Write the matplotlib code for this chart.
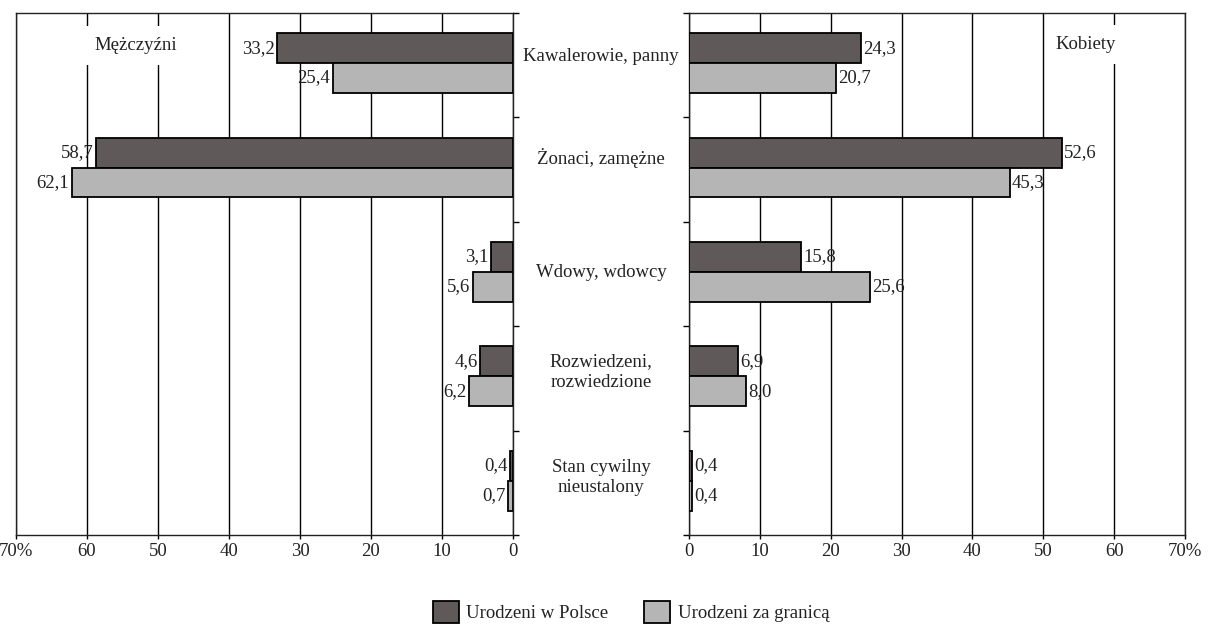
import matplotlib
matplotlib.use("Agg")
import matplotlib.pyplot as plt
from matplotlib.patches import Patch
import numpy as np

plt.rcParams['font.family'] = ['Liberation Serif', 'DejaVu Serif']

categories = ["Kawalerowie, panny", "Żonaci, zamężne", "Wdowy, wdowcy",
              "Rozwiedzeni,\nrozwiedzione", "Stan cywilny\nnieustalony"]
men_poland = [33.2, 58.7, 3.1, 4.6, 0.4]
men_abroad = [25.4, 62.1, 5.6, 6.2, 0.7]
women_poland = [24.3, 52.6, 15.8, 6.9, 0.4]
women_abroad = [20.7, 45.3, 25.6, 8.0, 0.4]
series_names = ["Urodzeni w Polsce", "Urodzeni za granicą"]
panel_titles = ["Mężczyźni", "Kobiety"]
xticks = [0, 10, 20, 30, 40, 50, 60, 70]
xticklabels = ["0", "10", "20", "30", "40", "50", "60", "70%"]

DARK = "#5f5a59"
LIGHT = "#b5b5b5"
TXT = "#222222"
FS = 13.5

W, H = 1213, 630
fig = plt.figure(figsize=(W / 100, H / 100), dpi=100)
top, bot = 13, 535
axL = fig.add_axes([16 / W, (H - bot) / H, 497 / W, (bot - top) / H])
axR = fig.add_axes([689 / W, (H - bot) / H, 496 / W, (bot - top) / H])

n = len(categories)
y = np.arange(n)
bh = 0.287
off = -0.02

def fmt(v):
    return f"{v:.1f}".replace(".", ",")

for ax, pl, ab, side in [(axL, men_poland, men_abroad, "L"), (axR, women_poland, women_abroad, "R")]:
    ax.set_xlim(0, 70)
    ax.set_ylim(n - 0.5, -0.5)
    if side == "L":
        ax.invert_xaxis()
    ax.barh(y + off - bh / 2, pl, height=bh, color=DARK, edgecolor="black", linewidth=1.3, zorder=3)
    ax.barh(y + off + bh / 2, ab, height=bh, color=LIGHT, edgecolor="black", linewidth=1.3, zorder=3)
    for i in range(n):
        for v, yy in [(pl[i], y[i] + off - bh / 2), (ab[i], y[i] + off + bh / 2)]:
            if side == "L":
                ax.annotate(fmt(v), (v, yy), xytext=(-2, 0), textcoords="offset points",
                            ha="right", va="center", fontsize=FS, color=TXT, zorder=5)
            else:
                ax.annotate(fmt(v), (v, yy), xytext=(1.5, 0), textcoords="offset points",
                            ha="left", va="center", fontsize=FS, color=TXT, zorder=5)
    ax.set_xticks(xticks)
    ax.set_xticklabels(xticklabels, fontsize=FS, color=TXT)
    ax.tick_params(axis="x", length=3, width=1, pad=3)
    ax.grid(axis="x", color="black", linewidth=1, zorder=0)
    ax.set_axisbelow(True)
    for s in ax.spines.values():
        s.set_linewidth(1)
        s.set_color(TXT)
    ax.set_yticks(np.arange(n + 1) - 0.5)
    ax.set_yticklabels([])
    if side == "L":
        ax.yaxis.tick_right()
    else:
        ax.yaxis.tick_left()
    ax.tick_params(axis="y", direction="out", length=4, width=1)

axL.text(0.24, 1 - 0.062, panel_titles[0], transform=axL.transAxes, ha="center", va="center",
         fontsize=FS, color=TXT, zorder=4,
         bbox=dict(facecolor="white", edgecolor="none", pad=8))
axR.text(0.80, 1 - 0.060, panel_titles[1], transform=axR.transAxes, ha="center", va="center",
         fontsize=FS, color=TXT, zorder=4,
         bbox=dict(facecolor="white", edgecolor="none", pad=8))

label_offsets = [-0.08, -0.11, -0.01, -0.06, -0.05]
for i, c in enumerate(categories):
    xfig = 601 / W
    yd = axL.transData.transform((0, y[i] + label_offsets[i]))[1]
    yfig = yd / fig.bbox.height
    fig.text(xfig, yfig, c, ha="center", va="center", fontsize=FS, color=TXT,
             linespacing=1.25)

handles = [Patch(facecolor=DARK, edgecolor="black", linewidth=1.3),
           Patch(facecolor=LIGHT, edgecolor="black", linewidth=1.3)]
fig.legend(handles, series_names, loc="center", bbox_to_anchor=(631 / W, 1 - 612 / H),
           ncol=2, frameon=False, fontsize=FS, handlelength=1.4, handleheight=1.4,
           columnspacing=1.9, handletextpad=0.4, labelcolor=TXT)

fig.savefig("out.png", dpi=100)
